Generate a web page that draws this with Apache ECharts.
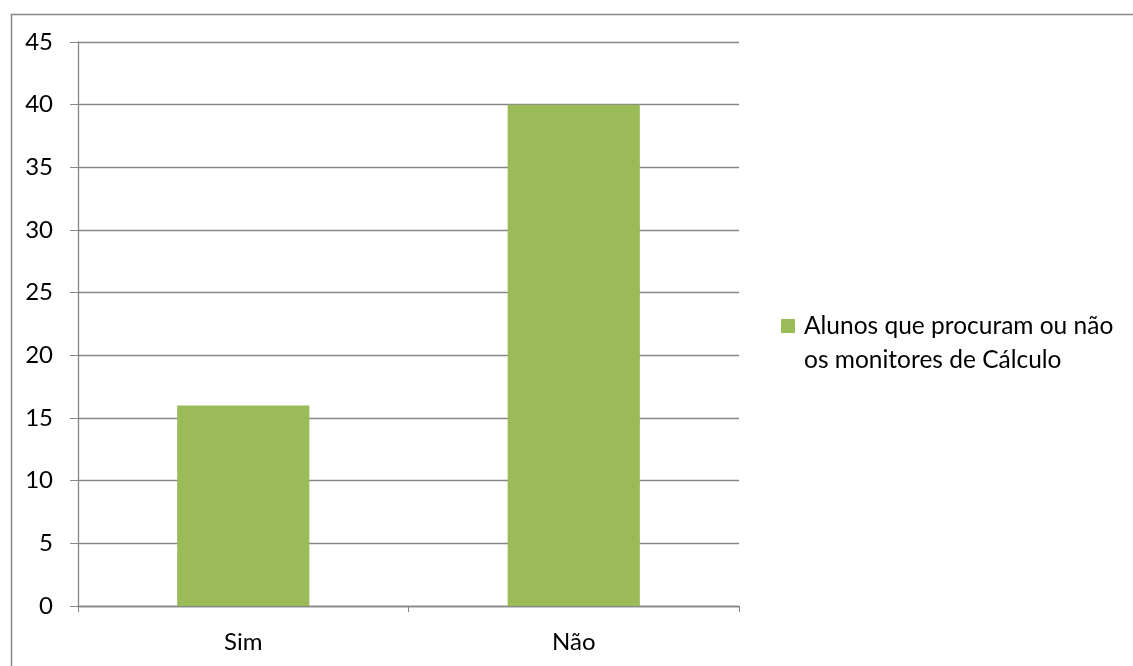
<!DOCTYPE html>
<html>
<head>
<meta charset="utf-8">
<script src="https://cdn.jsdelivr.net/npm/echarts@6/dist/echarts.min.js"></script>
<style>html,body{margin:0;padding:0;background:#fff}#c{width:1133px;height:666px}</style>
</head>
<body>
<div id="c"></div>
<script>
const categories = ['Sim', 'Não'];
const values = [16, 40];
const seriesName = 'Alunos que procuram ou não\nos monitores de Cálculo';
const yTicks = [0, 5, 10, 15, 20, 25, 30, 35, 40, 45];

const chart = echarts.init(document.getElementById('c'), null, {renderer: 'canvas'});
const axisColor = '#868686';
const font = 'Lato, "Open Sans", sans-serif';
chart.setOption({
  animation: false,
  backgroundColor: '#fff',
  graphic: [{
    type: 'rect', left: 9, top: 12, shape: {width: 1140, height: 670},
    style: {fill: 'none', stroke: axisColor, lineWidth: 1.5}, silent: true
  }],
  grid: {left: 78, right: 1133 - 739, top: 42, bottom: 666 - 606},
  legend: {
    left: 781, top: 275, padding: 0,
    icon: 'rect', itemWidth: 14, itemHeight: 14,
    data: [seriesName],
    formatter: function (name) { return ' \n' + name; },
    textStyle: {fontFamily: font, fontSize: 24.5, color: '#000', lineHeight: 34, padding: [0, 0, 0, 4]}
  },
  xAxis: {
    type: 'category', data: categories,
    axisLine: {lineStyle: {color: axisColor, width: 1.3}},
    axisTick: {show: true, length: 6, alignWithLabel: false, lineStyle: {color: axisColor}},
    axisLabel: {fontFamily: font, fontSize: 24, color: '#000', margin: 24}
  },
  yAxis: {
    type: 'value', min: yTicks[0], max: yTicks[yTicks.length - 1], interval: 5,
    axisLine: {show: true, lineStyle: {color: axisColor, width: 1.3}},
    axisTick: {show: true, inside: false, length: 8, lineStyle: {color: axisColor}},
    splitLine: {lineStyle: {color: axisColor, width: 1.3}},
    axisLabel: {fontFamily: font, fontSize: 24, color: '#000', margin: 25}
  },
  series: [{
    name: seriesName, type: 'bar', data: values, barWidth: '40%',
    itemStyle: {color: '#9BBB59'}
  }]
});
</script>
</body>
</html>
